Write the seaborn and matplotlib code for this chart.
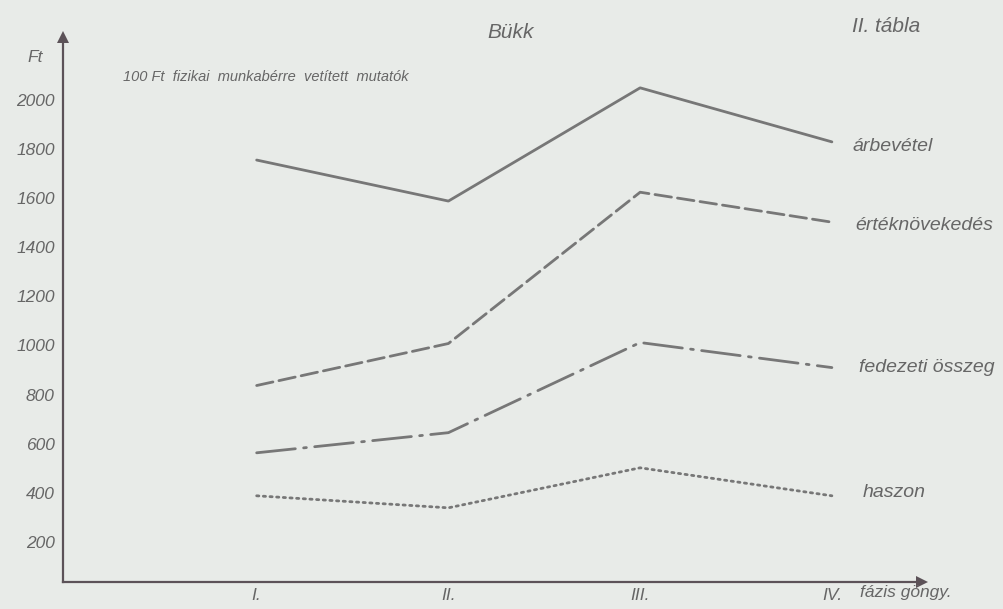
import pandas as pd
import matplotlib
matplotlib.use("Agg")
import matplotlib.pyplot as plt
import seaborn as sns

# data (Ft per 100 Ft physical wages)
fazisok = ['I.', 'II.', 'III.', 'IV.']
arbevetel = [1755, 1588, 2049, 1829]
erteknovekedes = [837, 1008, 1624, 1502]
fedezeti_osszeg = [563, 645, 1012, 910]
haszon = [388, 339, 502, 388]
sorozat_nevek = ['árbevétel', 'értéknövekedés', 'fedezeti összeg', 'haszon']
y_ticks = [200, 400, 600, 800, 1000, 1200, 1400, 1600, 1800, 2000]

rows = []
for nev, ertekek in zip(sorozat_nevek, [arbevetel, erteknovekedes, fedezeti_osszeg, haszon]):
    for i, v in enumerate(ertekek):
        rows.append({'fazis': i + 1, 'ertek': v, 'mutato': nev})
df = pd.DataFrame(rows)

paper = '#e8ebe8'
ink = '#777777'
axis_ink = '#5c5258'
text_ink = '#666666'

sns.set_theme(style='white')
plt.rcParams['font.family'] = ['Liberation Sans', 'DejaVu Sans']

fig = plt.figure(figsize=(10.04, 6.09), dpi=100, facecolor=paper)
ax = fig.add_axes([63 / 1004, (609 - 582) / 609, (922 - 63) / 1004, (582 - 37) / 609])
ax.set_facecolor(paper)

dashes = {
    'árbevétel': '',
    'értéknövekedés': (6, 2.2),
    'fedezeti összeg': (14, 3, 1, 3),
    'haszon': (0.8, 1.6),
}
sns.lineplot(data=df, x='fazis', y='ertek', style='mutato', dashes=dashes,
             color=ink, linewidth=2.0, legend=False, ax=ax)
for line in ax.get_lines():
    line.set_dash_capstyle('round')

ax.set_xlim(-0.01, 4.47)
ax.set_ylim(37, 2256)

for side in ['top', 'right']:
    ax.spines[side].set_visible(False)
for side in ['left', 'bottom']:
    ax.spines[side].set_color(axis_ink)
    ax.spines[side].set_linewidth(1.6)

# arrow heads on the axes
ax.plot(0, 1, marker='^', markersize=9, color=axis_ink, transform=ax.transAxes,
        clip_on=False, markeredgewidth=0)
ax.plot(1, 0, marker='>', markersize=9, color=axis_ink, transform=ax.transAxes,
        clip_on=False, markeredgewidth=0)

ax.set_yticks(y_ticks)
ax.set_yticklabels([str(t) for t in y_ticks], fontstyle='italic', fontsize=12.5, color=text_ink)
ax.set_xticks(range(1, len(fazisok) + 1))
ax.set_xticklabels(fazisok, fontstyle='italic', fontsize=12.5, color=text_ink)
ax.tick_params(axis='y', direction='out', length=5, width=1.2, color=axis_ink, pad=1)
ax.tick_params(axis='x', direction='inout', length=7, width=1.2, color=axis_ink, pad=1)
ax.set_xlabel('')
ax.set_ylabel('')

# labels at the right end of each line
label_y = [1810, 1490, 910, 400]
label_x = [4.11, 4.12, 4.14, 4.16]
for nev, x, y in zip(sorozat_nevek, label_x, label_y):
    ax.text(x, y, nev, fontstyle='italic', fontsize=14, color=text_ink,
            va='center', ha='left', clip_on=False)

fig.text(27 / 1004, 1 - 57 / 609, 'Ft', fontstyle='italic', fontsize=12.5, color=text_ink, va='center')
fig.text(123 / 1004, 1 - 77 / 609, '100 Ft  fizikai  munkabérre  vetített  mutatók',
         fontstyle='italic', fontsize=10.5, color=text_ink, va='center')
fig.text(487 / 1004, 1 - 33 / 609, 'Bükk', fontstyle='italic', fontsize=15, color=text_ink, va='center')
fig.text(852 / 1004, 1 - 27 / 609, 'II. tábla', fontstyle='italic', fontsize=15, color=text_ink, va='center')
fig.text(860 / 1004, 1 - 592 / 609, 'fázis göngy.', fontstyle='italic', fontsize=12.5,
         color=text_ink, va='center')

fig.savefig('out.png', dpi=100, facecolor=paper)
